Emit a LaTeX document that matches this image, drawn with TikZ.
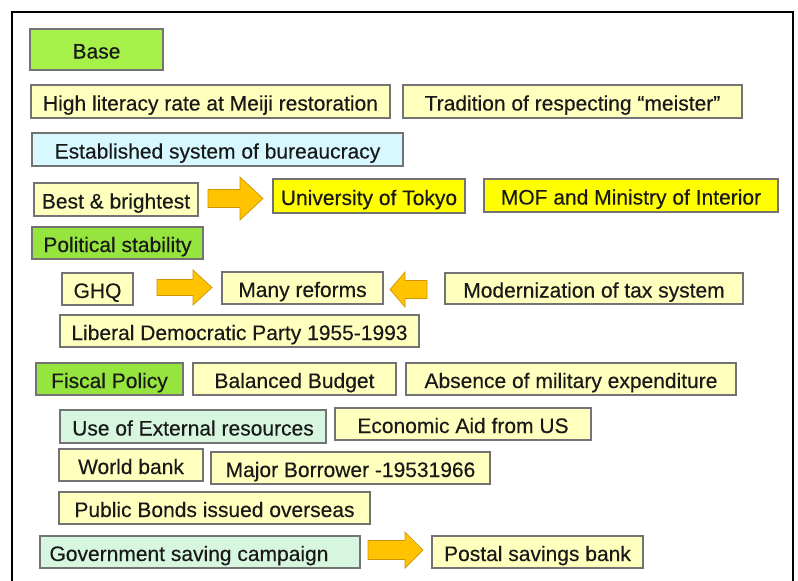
\documentclass[tikz,border=0pt]{standalone}
\usepackage{fontspec}
\setmainfont{Liberation Sans}
\newfontfamily\boxfont{Liberation Sans}[FakeBold=0.3]
\definecolor{greenA}{RGB}{166,240,74}
\definecolor{greenB}{RGB}{150,228,62}
\definecolor{paleY}{RGB}{255,255,190}
\definecolor{brightY}{RGB}{255,255,0}
\definecolor{paleC}{RGB}{215,248,255}
\definecolor{mint}{RGB}{214,246,224}
\definecolor{arrowO}{RGB}{255,195,0}
\definecolor{arrowE}{RGB}{205,150,0}
\definecolor{boxE}{RGB}{115,115,115}
\definecolor{txt}{RGB}{25,25,25}
\newcommand\bx[7]{\node[box,fill=#2,minimum width={(#5-#3)*1pt},minimum height={(#6-#4)*1pt}] (#1) at ({(#3+#5)/2},{(#4+#6)/2}) {#7};}
\newcommand\rarr[6]{\filldraw[blockarr] (#1,#4-#6) -- (#2,#4-#6) -- (#2,#4-#5) -- (#3,#4) -- (#2,#4+#5) -- (#2,#4+#6) -- (#1,#4+#6) -- cycle;}
\begin{document}
\begin{tikzpicture}[x=1pt,y=-1pt,
  box/.style={draw=boxE,line width=1.2pt,inner sep=0pt,text=txt,
    font=\boxfont\fontsize{21}{25}\selectfont,text height=18pt,text depth=0pt,anchor=center},
  blockarr/.style={fill=arrowO,draw=arrowE,line width=0.7pt}]
\useasboundingbox (0,0) rectangle (798,581);
\fill[white] (0,0) rectangle (798,581);
\draw[line width=1.3pt,black] (12,582) -- (12,12) -- (793,12) -- (793,582);
\bx{base}{greenA}{30}{29}{163}{70}{Base}
\bx{lit}{paleY}{31}{85}{390}{118}{High literacy rate at Meiji restoration}
\bx{trad}{paleY}{403}{85}{742}{118}{Tradition of respecting “meister”}
\bx{estab}{paleC}{32}{133}{403}{166}{Established system of bureaucracy}
\bx{best}{paleY}{34}{183}{198}{216}{Best \& brightest}
\bx{tokyo}{brightY}{273}{179}{465}{213}{University of Tokyo}
\bx{mof}{brightY}{484}{179}{778}{212}{MOF and Ministry of Interior}
\bx{polit}{greenB}{32}{227}{203}{259}{Political stability}
\bx{ghq}{paleY}{62}{273}{133}{305}{GHQ}
\bx{many}{paleY}{222}{272}{383}{304}{Many reforms}
\bx{modern}{paleY}{445}{273}{743}{304}{Modernization of tax system}
\bx{ldp}{paleY}{60}{315}{419}{347}{Liberal Democratic Party 1955-1993}
\bx{fiscal}{greenB}{36}{363}{183}{395}{Fiscal Policy}
\bx{balanced}{paleY}{193}{363}{396}{395}{Balanced Budget}
\bx{absence}{paleY}{406}{363}{736}{395}{Absence of military expenditure}
\bx{useext}{mint}{60}{410}{326}{443}{Use of External resources}
\bx{econ}{paleY}{335}{408}{591}{440}{Economic Aid from US}
\bx{world}{paleY}{59}{449}{203}{481}{World bank}
\bx{major}{paleY}{211}{452}{490}{484}{Major Borrower -19531966}
\bx{bonds}{paleY}{59}{492}{370}{524}{Public Bonds issued overseas}
\bx{gov}{mint}{40}{536}{360}{568}{Government saving campaign\hspace*{22pt}}
\bx{postal}{paleY}{432}{536}{643}{568}{Postal savings bank}
\rarr{208}{240}{263}{198.5}{21.5}{9}
\rarr{157}{193}{212}{287.5}{17.5}{8}
\rarr{427}{405}{390}{289.5}{17.5}{9}
\rarr{368}{405}{423}{550}{18}{9.5}
\end{tikzpicture}
\end{document}
